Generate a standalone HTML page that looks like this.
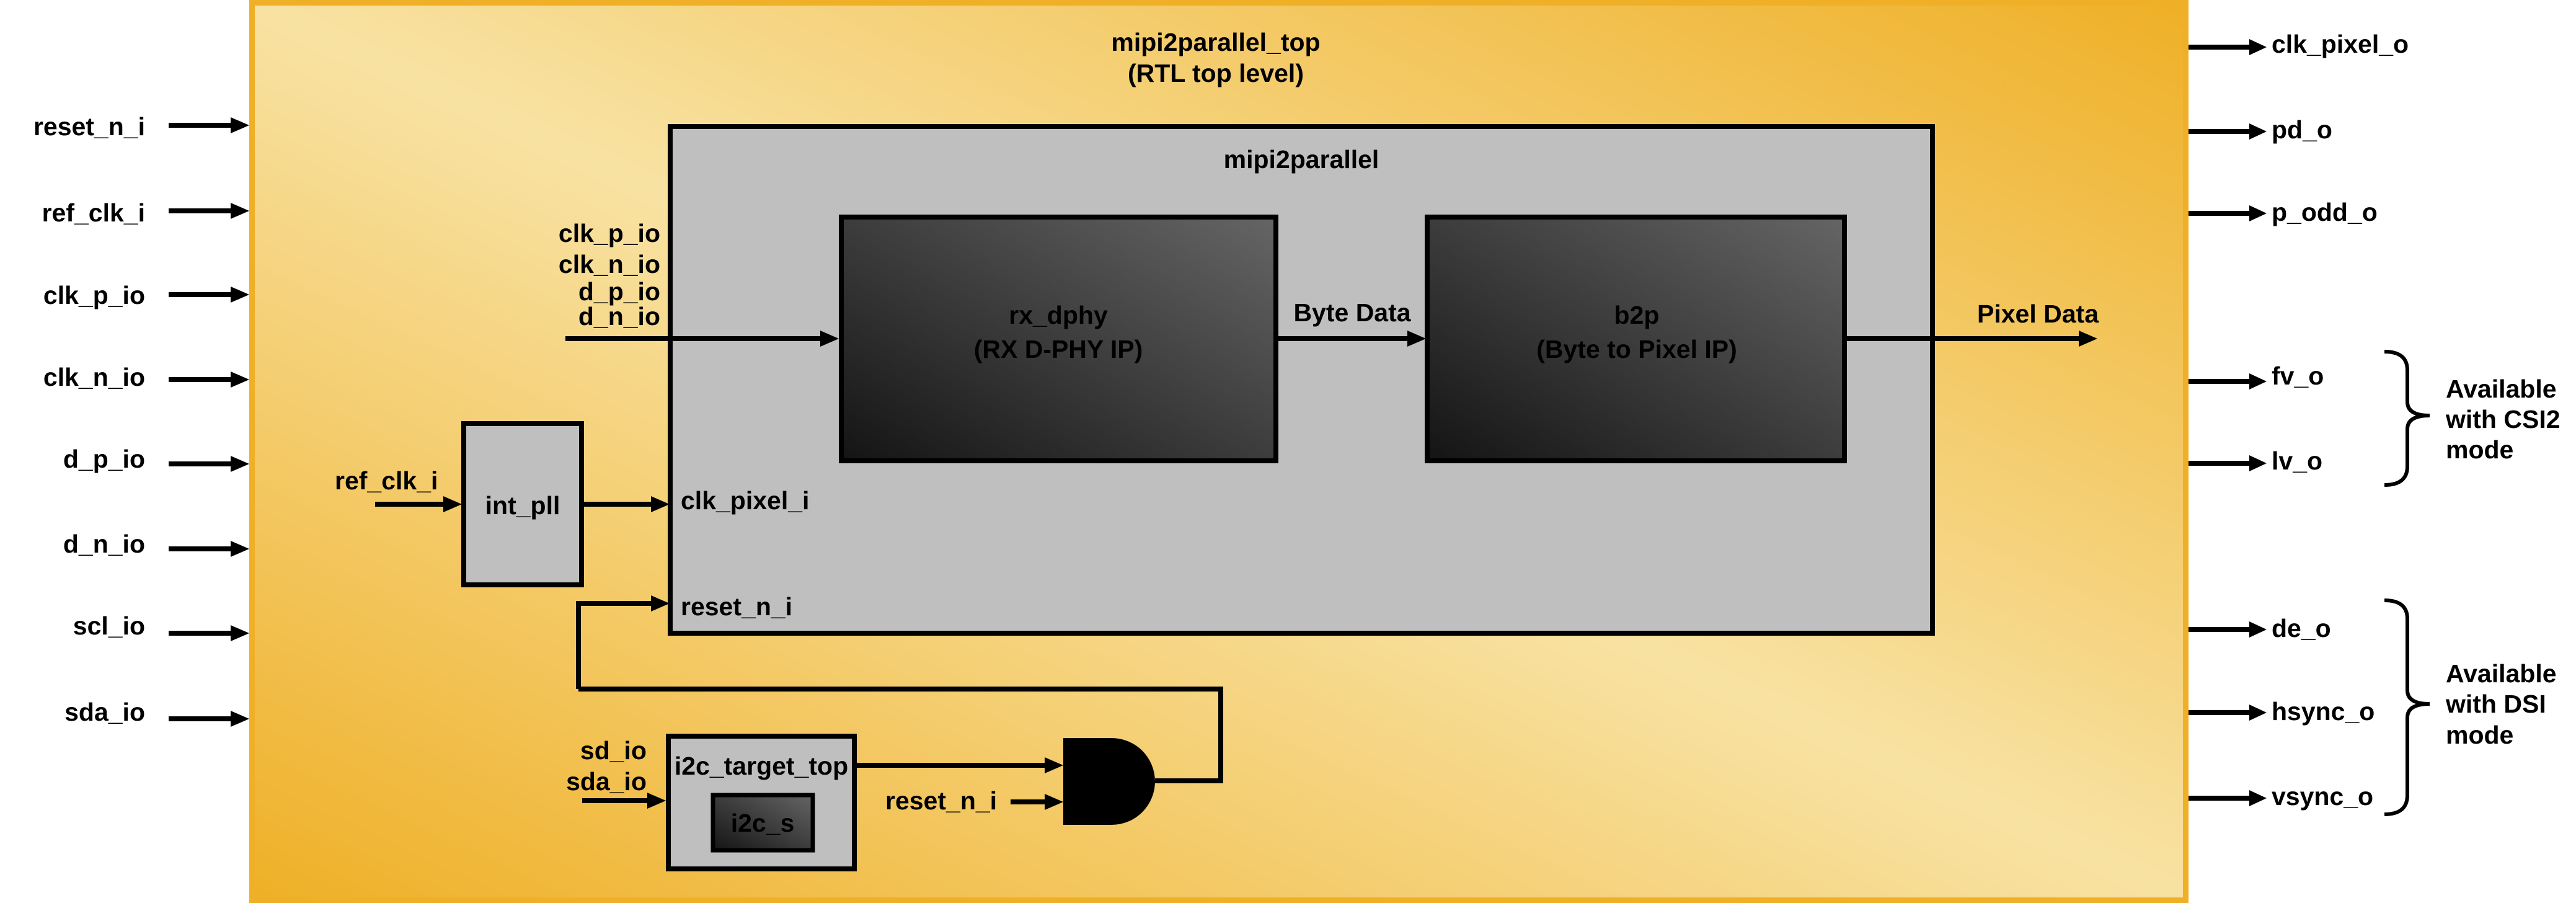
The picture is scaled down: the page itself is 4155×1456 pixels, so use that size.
<!DOCTYPE html>
<html><head><meta charset="utf-8"><style>
html,body{margin:0;padding:0;background:#fff;}
#outer{position:absolute;left:402px;top:0;width:3128px;height:1456px;box-sizing:border-box;border:9px solid #efb027;background:linear-gradient(to top right,#efb027 0%,#f8e2a3 50%,#efb027 100%);}
svg{position:absolute;left:0;top:0;}
text{font-family:"Liberation Sans",sans-serif;font-weight:bold;font-size:41px;fill:#000;}
</style></head><body>
<div id="outer"></div>
<svg width="4155" height="1456" viewBox="0 0 4155 1456">
<defs>
<linearGradient id="dk" x1="0" y1="1" x2="1" y2="0"><stop offset="0" stop-color="#141414"/><stop offset="1" stop-color="#656565"/></linearGradient>
</defs>
<style>.l{stroke:#000;stroke-width:8;fill:none}.ah{fill:#000}</style>
<!-- left inputs -->
<g text-anchor="end">
<text x="234" y="218">reset_n_i</text>
<text x="234" y="357">ref_clk_i</text>
<text x="234" y="490">clk_p_io</text>
<text x="234" y="622">clk_n_io</text>
<text x="234" y="754">d_p_io</text>
<text x="234" y="891">d_n_io</text>
<text x="234" y="1023">scl_io</text>
<text x="234" y="1162">sda_io</text>
</g>
<g class="l">
<path d="M272 202H375M272 340H375M272 475H375M272 612H375M272 748H375M272 885H375M272 1021H375M272 1159H375"/>
</g>
<g class="ah">
<path d="M372 189L402 202L372 215zM372 327L402 340L372 353zM372 462L402 475L372 488zM372 599L402 612L372 625zM372 735L402 748L372 761zM372 872L402 885L372 898zM372 1008L402 1021L372 1034zM372 1146L402 1159L372 1172z"/>
</g>
<!-- titles -->
<g text-anchor="middle">
<text x="1961" y="82">mipi2parallel_top</text>
<text x="1961" y="132">(RTL top level)</text>
</g>
<!-- mipi2parallel -->
<rect x="1081" y="204" width="2036" height="817" fill="#bfbfbf" stroke="#000" stroke-width="8"/>
<text x="2099" y="271" text-anchor="middle">mipi2parallel</text>
<rect x="1357" y="350" width="701" height="393" fill="url(#dk)" stroke="#000" stroke-width="8"/>
<rect x="2302" y="350" width="673" height="393" fill="url(#dk)" stroke="#000" stroke-width="8"/>
<g text-anchor="middle">
<text x="1707" y="522" fill="#fff">rx_dphy</text>
<text x="1707" y="577" fill="#fff">(RX D-PHY IP)</text>
<text x="2640" y="522" fill="#fff">b2p</text>
<text x="2640" y="577" fill="#fff">(Byte to Pixel IP)</text>
</g>
<g text-anchor="end">
<text x="1065" y="390">clk_p_io</text>
<text x="1065" y="440">clk_n_io</text>
<text x="1065" y="484">d_p_io</text>
<text x="1065" y="524">d_n_io</text>
</g>
<text x="2181" y="518" text-anchor="middle">Byte Data</text>
<text x="3287" y="520" text-anchor="middle">Pixel Data</text>
<path class="l" d="M912 546H1325M2062 546H2270M2979 546H3355"/>
<path class="ah" d="M1323 533L1353 546L1323 559zM2270 533L2300 546L2270 559zM3353 533L3383 546L3353 559z"/>
<!-- int_pll -->
<rect x="748" y="683" width="190" height="260" fill="#bfbfbf" stroke="#000" stroke-width="8"/>
<text x="843" y="829" text-anchor="middle">int_pll</text>
<text x="540" y="789">ref_clk_i</text>
<text x="1098" y="821">clk_pixel_i</text>
<text x="1098" y="992">reset_n_i</text>
<path class="l" d="M605 813H717M942 813H1052M933 1111V973H1052M933 1111H1969V1259H1863"/>
<path class="ah" d="M715 800L745 813L715 826zM1050 800L1080 813L1050 826zM1050 960L1080 973L1050 986z"/>
<!-- i2c -->
<rect x="1078" y="1187" width="300" height="214" fill="#bfbfbf" stroke="#000" stroke-width="8"/>
<text x="1228" y="1249" text-anchor="middle">i2c_target_top</text>
<rect x="1150" y="1282" width="161" height="89" fill="url(#dk)" stroke="#000" stroke-width="7"/>
<text x="1230" y="1341" text-anchor="middle" fill="#fff">i2c_s</text>
<g text-anchor="end">
<text x="1043" y="1224">sd_io</text>
<text x="1043" y="1274">sda_io</text>
</g>
<text x="1428" y="1305">reset_n_i</text>
<path class="l" d="M939 1291H1046M1382 1234H1687M1630 1293H1687"/>
<path class="ah" d="M1044 1278L1074 1291L1044 1304zM1685 1221L1715 1234L1685 1247zM1685 1280L1715 1293L1685 1306z"/>
<!-- AND gate -->
<path d="M1715 1190H1793A70 70 0 0 1 1793 1330H1715z" fill="#000"/>
<!-- right outputs -->
<g class="l"><path d="M3530 76H3630M3530 212H3630M3530 344H3630M3530 615H3630M3530 747H3630M3530 1015H3630M3530 1149H3630M3530 1287H3630"/></g>
<g class="ah"><path d="M3628 63L3656 76L3628 89zM3628 199L3656 212L3628 225zM3628 331L3656 344L3628 357zM3628 602L3656 615L3628 628zM3628 734L3656 747L3628 760zM3628 1002L3656 1015L3628 1028zM3628 1136L3656 1149L3628 1162zM3628 1274L3656 1287L3628 1300z"/></g>
<g>
<text x="3664" y="85">clk_pixel_o</text>
<text x="3664" y="223">pd_o</text>
<text x="3664" y="356">p_odd_o</text>
<text x="3664" y="620">fv_o</text>
<text x="3664" y="757">lv_o</text>
<text x="3664" y="1027">de_o</text>
<text x="3664" y="1161">hsync_o</text>
<text x="3664" y="1298">vsync_o</text>
</g>
<path d="M3846 567Q3883 567 3883 597V648Q3883 670 3919 670Q3883 670 3883 692V752Q3883 782 3846 782" stroke="#000" stroke-width="6" fill="none"/>
<path d="M3846 968Q3883 968 3883 998V1113Q3883 1135 3919 1135Q3883 1135 3883 1157V1282Q3883 1313 3846 1313" stroke="#000" stroke-width="6" fill="none"/>
<text x="3945" y="641">Available</text>
<text x="3945" y="690">with CSI2</text>
<text x="3945" y="739">mode</text>
<text x="3945" y="1100">Available</text>
<text x="3945" y="1149">with DSI</text>
<text x="3945" y="1199">mode</text>
</svg>
</body></html>
